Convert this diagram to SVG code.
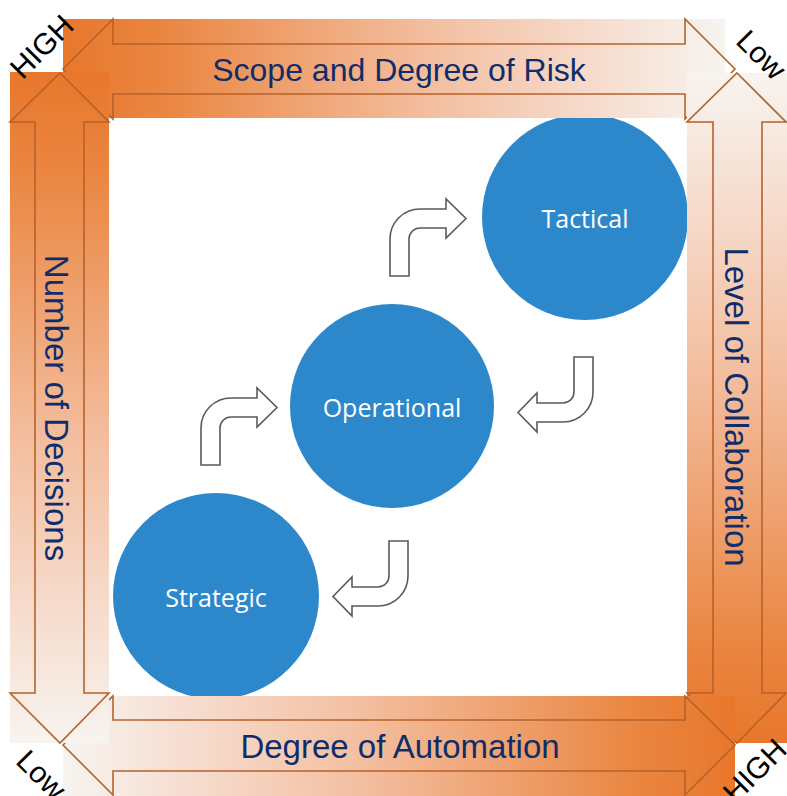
<svg xmlns="http://www.w3.org/2000/svg" width="787" height="796" viewBox="0 0 787 796">
  <style>
    .band-outline { fill: none; stroke: #B6622B; stroke-width: 1.6; stroke-linejoin: miter; }
    .axis-label { font-family: "Liberation Sans", Arial, sans-serif; font-size: 33px; fill: #0F2D6B; text-anchor: middle; }
    .corner { font-family: "Liberation Sans", Arial, sans-serif; font-size: 30px; fill: #000000; text-anchor: middle; }
    .stage { fill: #2D88CB; }
    .stage-label { font-family: "Open Sans", "Liberation Sans", sans-serif; font-size: 25px; fill: #FFFFFF; text-anchor: middle; }
    .bend { fill: #FFFFFF; stroke: #5A5A5A; stroke-width: 1.6; stroke-linejoin: miter; }
  </style>
  <defs>
    <!-- orange fading to near white -->
    <linearGradient id="fadeRight" x1="0" y1="0" x2="1" y2="0">
      <stop offset="0" stop-color="#E8772B"/>
      <stop offset="0.15" stop-color="#EA8641"/>
      <stop offset="0.35" stop-color="#EFA271"/>
      <stop offset="0.55" stop-color="#F3BE9F"/>
      <stop offset="0.78" stop-color="#F6D9C9"/>
      <stop offset="1" stop-color="#F7F4F0"/>
    </linearGradient>
    <linearGradient id="fadeLeft" href="#fadeRight" x1="1" y1="0" x2="0" y2="0"/>
    <linearGradient id="fadeDown" href="#fadeRight" x1="0" y1="0" x2="0" y2="1"/>
    <linearGradient id="fadeUp" href="#fadeRight" x1="0" y1="1" x2="0" y2="0"/>
    <!-- bent arrow turning from up to right -->
    <path id="bendUpRight" d="M201,465 L201,428 A30,30 0 0 1 231,398 L257,398 L257,388 L277,407.5 L257,427 L257,417 L231,417 A11,11 0 0 0 220,428 L220,465 Z"/>
    <!-- bent arrow turning from down to left -->
    <path id="bendDownLeft" d="M574,357 L593,357 L593,392 A30,30 0 0 1 563,422 L537,422 L537,432 L518,412.5 L537,393 L537,403 L563,403 A11,11 0 0 0 574,392 Z"/>
  </defs>

  <rect x="0" y="0" width="787" height="796" fill="#FFFFFF"/>

  <!-- stages -->
  <g id="node-tactical">
    <circle class="stage" cx="585" cy="217" r="103"/>
    <text class="stage-label" x="585" y="228">Tactical</text>
  </g>
  <g id="node-operational">
    <circle class="stage" cx="392" cy="406" r="102"/>
    <text class="stage-label" x="392" y="417">Operational</text>
  </g>
  <g id="node-strategic">
    <circle class="stage" cx="216" cy="596" r="103"/>
    <text class="stage-label" x="216" y="607">Strategic</text>
  </g>

  <!-- cycle arrows between stages -->
  <g id="connectors">
    <use href="#bendUpRight" class="bend"/>
    <use href="#bendUpRight" class="bend" transform="translate(189,-189)"/>
    <use href="#bendDownLeft" class="bend"/>
    <use href="#bendDownLeft" class="bend" transform="translate(-185,184)"/>
  </g>

  <!-- axes around the frame -->
  <g id="axis-top">
    <rect x="63" y="19" width="662" height="99" fill="url(#fadeRight)"/>
    <path class="band-outline" d="M63,69 L113,19 L113,44 L685,44 L685,19 L735,69 L685,119 L685,94 L113,94 L113,119 Z"/>
    <text class="axis-label" x="399" y="81" style="font-size:32px">Scope and Degree of Risk</text>
  </g>
  <g id="axis-right">
    <rect x="687" y="73" width="100" height="670" fill="url(#fadeUp)"/>
    <path class="band-outline" d="M737,73 L786,122 L762,122 L762,693 L786,693 L737,743 L687,693 L713,693 L713,122 L687,122 Z"/>
    <text class="axis-label" transform="translate(725,407) rotate(90)" x="0" y="0">Level of Collaboration</text>
  </g>
  <g id="axis-bottom">
    <rect x="63" y="696" width="672" height="100" fill="url(#fadeLeft)"/>
    <path class="band-outline" d="M63,745 L113,696 L113,720 L685,720 L685,696 L735,745 L685,795 L685,771 L113,771 L113,795 Z"/>
    <text class="axis-label" x="400" y="758">Degree of Automation</text>
  </g>
  <g id="axis-left">
    <rect x="10" y="72" width="99" height="671" fill="url(#fadeDown)"/>
    <path class="band-outline" d="M60,73 L109,122 L84,122 L84,693 L109,693 L60,743 L10,693 L35,693 L35,122 L10,122 Z"/>
    <text class="axis-label" transform="translate(45,408) rotate(90)" x="0" y="0">Number of Decisions</text>
  </g>

  <!-- corner scale markers -->
  <g id="corner-labels">
    <text class="corner" transform="translate(49,54) rotate(-45)">HIGH</text>
    <text class="corner" transform="translate(754,62) rotate(45)">Low</text>
    <text class="corner" transform="translate(34,782) rotate(45)">Low</text>
    <text class="corner" transform="translate(762,778) rotate(-45)">HIGH</text>
  </g>
</svg>
